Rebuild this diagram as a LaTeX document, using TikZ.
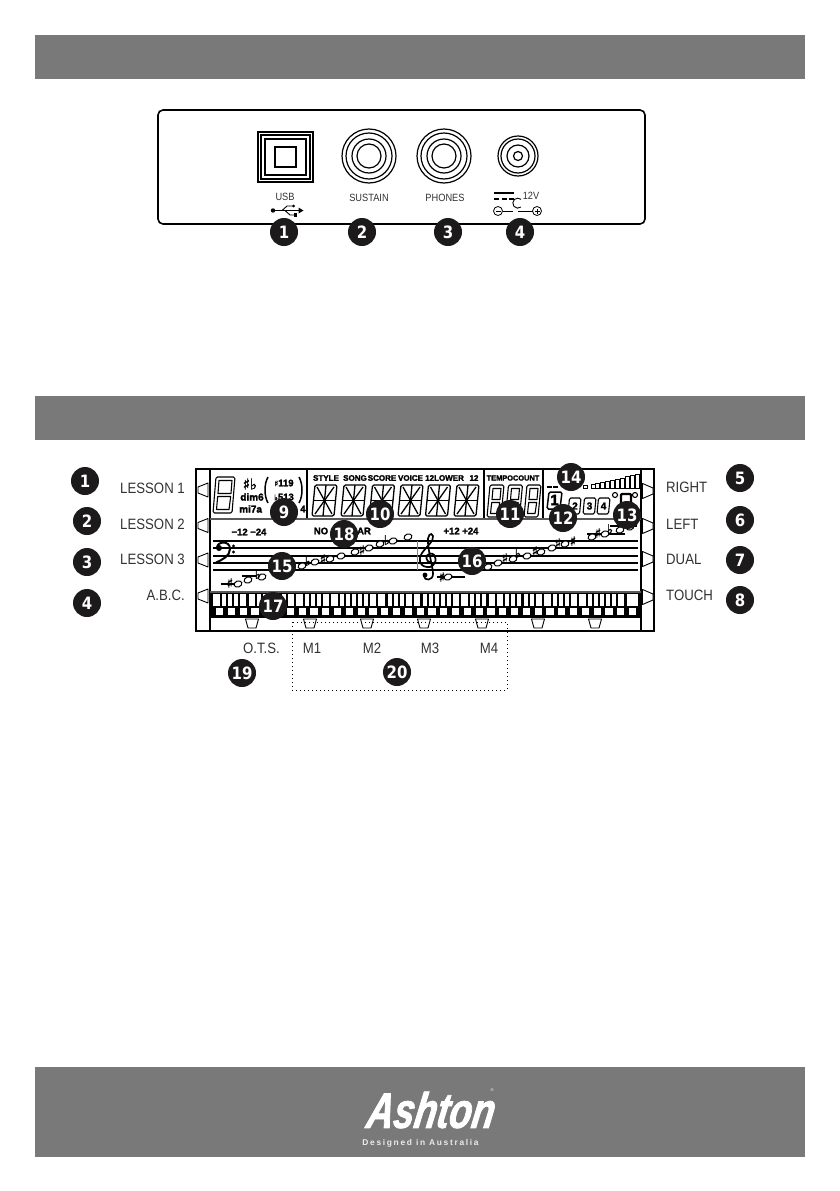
\documentclass[tikz,border=0pt]{standalone}
\usepackage{fontspec}
\setmainfont{Liberation Sans}
\newfontfamily\labf[FakeStretch=0.88]{Liberation Sans}
\newfontfamily\numf[FakeStretch=0.88]{DejaVu Sans Bold}
\newfontfamily\lcdf[FakeBold=2.2]{Liberation Sans Bold}
\newfontfamily\symf[FakeBold=1.5]{DejaVu Sans Bold}
\newfontfamily\logof[FakeStretch=0.74,FakeSlant=0.16,FakeBold=1.5]{Liberation Sans Bold Italic}
\newfontfamily\tagf[LetterSpace=20]{Liberation Sans Bold}
\definecolor{barg}{RGB}{122,121,121}
\definecolor{badge}{RGB}{28,26,27}
\definecolor{labg}{RGB}{50,50,50}
\tikzset{
  bar/.style={fill=barg,draw=none},
  badgen/.style={circle,fill=badge,draw=none,minimum size=28pt,inner sep=0pt,text=white,font=\numf\fontsize{17}{17}\selectfont},
  lab/.style={inner sep=0pt,text=labg,font=\labf\fontsize{15}{15}\selectfont},
  small/.style={inner sep=0pt,text=labg,font=\labf\fontsize{10.5}{11}\selectfont},
  lcd/.style={inner sep=0pt,text=black,font=\lcdf\fontsize{8}{8}\selectfont},
  note/.style={draw=black,fill=white,line width=1pt,rotate=20,ellipse,minimum width=8pt,minimum height=6pt,inner sep=0pt},
  acc/.style={inner sep=0pt,text=black,font=\symf\fontsize{13}{13}\selectfont},
  btn/.style={draw=black,fill=white,line width=.9pt,line join=round},
  keyw/.style={fill=white,draw=none},
}
\usetikzlibrary{shapes.geometric}
\newcommand{\segd}[4]{% x y w h
 \begin{scope}[shift={(#1,#2)},line width=1.3pt,line join=round]
  \draw[rounded corners=1.5pt] (3,0) -- (#3,0) -- (#3-3,#4) -- (0,#4) -- cycle;
  \draw (1.5,#4/2) -- (#3-1.5,#4/2);
  \draw (#3/2+1.5,0) -- (#3/2-1.5,#4);
  \draw (5,2) -- (#3/2,#4/2) -- (#3-3,2);
  \draw (3,#4-2) -- (#3/2,#4/2) -- (#3-5,#4-2);
 \end{scope}}
\newcommand{\sevd}[4]{% x y w h
 \begin{scope}[shift={(#1,#2)},line width=1.1pt,line join=round]
  \draw[rounded corners=1.5pt] (3,0) -- (#3,0) -- (#3-3,#4) -- (0,#4) -- cycle;
  \draw (6,3.5) -- (#3-3,3.5) -- (#3-4,#4/2-1.5) -- (5,#4/2-1.5) -- cycle;
  \draw (4.7,#4/2+1.5) -- (#3-4.3,#4/2+1.5) -- (#3-6,#4-3.5) -- (3.5,#4-3.5) -- cycle;
 \end{scope}}
\begin{document}
\begin{tikzpicture}[x=1pt,y=-1pt]
\useasboundingbox (0,0) rectangle (839,1191);
\fill[white] (0,0) rectangle (839,1191);
% bars
\fill[bar] (35,35) rectangle (805,79);
\fill[bar] (35,396) rectangle (805,440);
\fill[bar] (35,1067) rectangle (805,1157);
% rear panel
\draw[line width=1.6pt,rounded corners=5pt] (158,110) rectangle (645,224);
\draw[line width=1.1pt] (258,132) rectangle (313,182);
\draw[line width=1.1pt] (261,135) rectangle (310,179);
\draw[line width=1.1pt] (265,139) rectangle (306,175);
\draw[line width=1.1pt] (275,147) rectangle (296,167);
\foreach \cx/\nm in {369/jb,444/jc}{
  \foreach \r in {27,23,17,12}{\draw[line width=1.2pt] (\cx,156) circle (\r);}
}
\foreach \r in {20,17,11,4.5}{\draw[line width=1.2pt] (518,156) circle (\r);}
\node[small] (lusb) at (285,197) {USB};
\node[small] (lsus) at (369,198) {SUSTAIN};
\node[small] (lpho) at (445,198) {PHONES};
\node[small] (l12v) at (531,196) {12V};
% usb symbol
\fill (273,210.5) circle (2.2);
\draw[line width=1pt] (273,210.5) -- (299,210.5);
\fill (303.5,210.5) -- (298.5,207.5) -- (298.5,213.5) -- cycle;
\draw[line width=.9pt] (282,210.5) -- (287,206) -- (293,206);
\draw[line width=.9pt] (285,210.5) -- (290,215) -- (295,215);
\fill (293.5,206) circle (1.5);
\fill (294,213.3) rectangle (297,216.7);
% DC symbol
\draw[line width=1.1pt] (494,193) -- (514,193);
\draw[line width=1.1pt,dash pattern=on 5pt off 2.5pt] (494,199) -- (514,199);
\draw[line width=.8pt] (498,211) circle (4.5);
\draw[line width=.8pt] (495.5,211) -- (500.5,211);
\draw[line width=.8pt] (502.5,211) -- (513,211);
\draw[line width=.9pt] (521,207) arc[start angle=50,end angle=310,radius=5];
\draw[line width=.8pt] (518,211) -- (532.5,211);
\draw[line width=.8pt] (537,211) circle (4.5);
\draw[line width=.8pt] (534.5,211) -- (539.5,211) (537,208.5) -- (537,213.5);
% LCD frame
\draw[line width=1.2pt] (196,469) rectangle (654,631);
\draw[line width=1.4pt] (210,469) -- (210,631);
\draw[line width=1.4pt] (641,469) -- (641,631);
\draw[line width=1.2pt] (307,469) -- (307,519);
\draw[line width=1.2pt] (484,469) -- (484,519);
\draw[line width=1.2pt] (543,469) -- (543,519);
\draw[line width=2.5pt,draw=black!65] (210,519) -- (641,519);
\draw[line width=2.5pt,draw=black!65] (210,592) -- (641,592);
% side buttons
\foreach \yy in {490,525.5,560,596}{
  \draw[btn] (198,\yy-3) -- (208,\yy-7) -- (208,\yy+7) -- (198,\yy+3) -- cycle;
}
\foreach \yy in {491,526,559,597}{
  \draw[btn] (642.5,\yy-7.5) -- (653,\yy-3) -- (653,\yy+3) -- (642.5,\yy+7.5) -- cycle;
}
% bottom buttons
\foreach \xx in {252,310,367,424,482,538,595}{
  \draw[btn] (\xx-6.5,619) -- (\xx+6.5,619) -- (\xx+4,628) -- (\xx-4,628) -- cycle;
}
% keyboard
\fill (211,593) rectangle (639.5,617.5);
\foreach \k in {0,...,35}{
  \pgfmathsetmacro{\kx}{219.5+11.8*\k}
  \fill[keyw] (\kx-3.6,608) rectangle (\kx+3.6,615);
}
\foreach \o in {0,...,4}{
  \foreach \off/\wd in {0/7,9.1/4,15.2/4,21.3/4,27.4/6,35.5/6.5,44.1/4,50.2/4,56.3/4,62.4/4,68.5/4,74.6/6}{
    \pgfmathsetmacro{\sx}{213+82.7*\o+\off}
    \pgfmathsetmacro{\ex}{\sx+\wd}
    \fill[keyw] (\sx,594) rectangle (\ex,606);
  }
}
\fill[keyw] (626.5,594) rectangle (637.5,606);
% first block
\sevd{213}{477}{22}{36}
\node[inner sep=0pt,font=\symf\fontsize{15}{15}\selectfont] (acc1) at (250,484) {♯♭};
\node[lcd,font=\lcdf\fontsize{9.5}{9.5}\selectfont] (t119) at (284,483) {{\symf\fontsize{8}{8}\selectfont ♯}119};
\node[lcd,font=\lcdf\fontsize{10}{10}\selectfont] (tdim) at (252,497) {dim6};
\node[lcd,font=\lcdf\fontsize{9.5}{9.5}\selectfont] (t513) at (284,497) {{\symf\fontsize{8}{8}\selectfont ♭}513};
\draw[line width=1.5pt] (268,477) .. controls (264,484) and (264,496) .. (268,503);
\draw[line width=1.5pt] (299,477) .. controls (303,484) and (303,496) .. (299,503);
\node[lcd,font=\lcdf\fontsize{10}{10}\selectfont,anchor=west] (tmi) at (239,509) {mi7a};
\node[lcd,font=\lcdf\fontsize{9.5}{9.5}\selectfont] (tfour) at (303,509) {4};
% labels row
\node[lcd] (tsty) at (326,478) {STYLE};
\node[lcd] (tson) at (355,478) {SONG};
\node[lcd] (tsco) at (382,478) {SCORE};
\node[lcd] (tvoi) at (410.5,478) {VOICE};
\node[lcd,anchor=west] (tlow) at (425,478) {12LOWER};
\node[lcd] (t12) at (474,478) {12};
\node[lcd,font=\lcdf\fontsize{7.4}{7.4}\selectfont] (ttem) at (513,478) {TEMPOCOUNT};
\foreach \xx in {312,341,369.5,398,425.5,454}{\segd{\xx}{485}{25}{31}}
\foreach \xx in {487,505.5,524}{\sevd{\xx}{485}{17}{32}}
% level bars
\foreach \i/\tp in {0/484,1/483,2/482,3/481,4/480,5/479,6/478,7/476.5,8/475,9/474}{
  \draw[line width=1pt,fill=white] (591+\i*4.9,\tp) rectangle (595+\i*4.9,488);
}
\draw[line width=1pt,fill=white] (583,485) rectangle (587,488);
\fill (547,485.5) rectangle (552,488);
\fill (553,485.5) rectangle (558,488);
% beat indicators
\draw[line width=1.5pt,rounded corners=1.5pt] (549,492) -- (562,492) -- (560,509) -- (547,509) -- cycle;
\node[inner sep=0pt,font=\lcdf\fontsize{15}{15}\selectfont] (beat1) at (554.5,500) {1};
\foreach \xx/\dg in {568/2,583/3,597/4}{
  \draw[line width=1.1pt,rounded corners=1.5pt] (\xx+1.5,498) -- (\xx+13,498) -- (\xx+11.5,514) -- (\xx,514) -- cycle;
}
\node[lcd,font=\lcdf\fontsize{10}{10}\selectfont] (beat2) at (575,506) {2};
\node[lcd,font=\lcdf\fontsize{10}{10}\selectfont] (beat3) at (589.5,506) {3};
\node[lcd,font=\lcdf\fontsize{10}{10}\selectfont] (beat4) at (603.5,506) {4};
\draw[line width=1.1pt] (615,495) circle (2.5);
\draw[line width=1.1pt] (635,495) circle (2.5);
\draw[line width=2.2pt,rounded corners=1pt] (621,505) -- (621,494) -- (631,494) -- (631,505);
% staff labels
\node[lcd,font=\lcdf\fontsize{9.5}{9.5}\selectfont] (tm12) at (249,532) {−12 −24};
\node[lcd,font=\lcdf\fontsize{9.5}{9.5}\selectfont] (tno) at (321,531) {NO};
\node[lcd,font=\lcdf\fontsize{9.5}{9.5}\selectfont] (tar) at (364,531) {AR};
\node[lcd,font=\lcdf\fontsize{9.5}{9.5}\selectfont] (tp12) at (461,531) {+12 +24};
% staves
\foreach \yy in {541,548,556,563,570}{\draw[line width=1.5pt] (213,\yy) -- (638,\yy);}
\draw[line width=.4pt,draw=black!50] (417,541) -- (417,570);
% ledger
\foreach \a/\b/\c in {221/240/584,242/257/576,437/465/577,587/625/534,610/637/526}{
  \draw[line width=1.2pt] (\a,\c) -- (\b,\c);
}
% bass clef
\fill (219,548) circle (3);
\draw[line width=2pt] (217,548) .. controls (217,541) and (230,540) .. (230,549) .. controls (230,556) and (222,560) .. (216,562.5);
\fill (233.5,546) circle (1.6) (233.5,552) circle (1.6);
% treble clef
\draw[line width=1.7pt] (431,563) .. controls (425,561) and (425,555) .. (430,553.5)
  .. controls (437,553) and (438,564) .. (430,567)
  .. controls (421,568) and (417,561) .. (422,553)
  .. controls (427,546) and (434,541) .. (433,536)
  .. controls (431,531) and (427,536) .. (428,543)
  .. controls (429,555) and (433,568) .. (433,574)
  .. controls (433,581) and (424,581) .. (424,576);
\fill (425,575) circle (2.4);
% notes left then right
\foreach \xx/\yy in {238/584,248/580,262/577,302/566,315/562,330/559,341/556,355/552,369/548,380/544,393/541,408/537,
  448/577,488/567,498/563,513/559,527/556,541/552,552/548,565/544,592/537,605/534,620/530,630/527}{
  \node[note] at (\xx,\yy) {};
}
\foreach \xx/\yy/\sy in {230/583/♯,258/574/♭,308/561/♭,323/559/♯,362/550/♯,387/540/♭,
  442/577/♯,505/558/♯,518/553/♭,535/551/♯,558/543/♯,573/541/♯,598/533/♯,610/529/♭}{
  \node[acc] at (\xx,\yy) {\sy};
}
% dotted frame
\draw[line width=1pt,dash pattern=on 1pt off 3pt] (292,622) rectangle (507,690);
% labels
\foreach \nm/\yy/\tx in {a/488/LESSON 1,b/524/LESSON 2,c/559/LESSON 3,d/595/A.B.C.}{
  \node[lab,anchor=east] (l\nm) at (185,\yy) {\tx};
}
\foreach \nm/\yy/\tx in {e/487/RIGHT,f/524/LEFT,g/559/DUAL,h/595/TOUCH}{
  \node[lab,anchor=west] (l\nm) at (666,\yy) {\tx};
}
\node[lab,anchor=east] (lots) at (280,648) {O.T.S.};
\foreach \nm/\xx/\tx in {m/312/M1,n/372/M2,o/430/M3,p/489/M4}{
  \node[lab] (l\nm) at (\xx,648) {\tx};
}
% badges
\foreach \n/\xx/\yy in {1/284/232,2/362/232,3/448/232,4/520/232}{
  \node[badgen] (pa\n) at (\xx,\yy) {\n};
}
\foreach \n/\xx/\yy in {1/85/481,2/87/521,3/87/562,4/87/603,5/740/478,6/740/520,7/740/560,8/740/600,
  9/284/512,10/380/514,11/510/514,12/563/518,13/627/515,14/571/477,15/282/566,16/472/561,17/273/606,18/344/534,19/242/673,20/397/672}{
  \node[badgen] (pb\n) at (\xx,\yy) {\n};
}
% logo
\node[inner sep=0pt,text=white,font=\logof\fontsize{50}{50}\selectfont] (logo) at (429,1110) {Ashton};
\node[inner sep=0pt,text=white,font=\fontsize{4}{4}\selectfont] (reg) at (492,1090) {®};
\node[inner sep=0pt,text=white!85!barg,font=\tagf\fontsize{8.4}{9}\selectfont] (tag) at (420.5,1143) {Designed in Australia};
\end{tikzpicture}
\end{document}
